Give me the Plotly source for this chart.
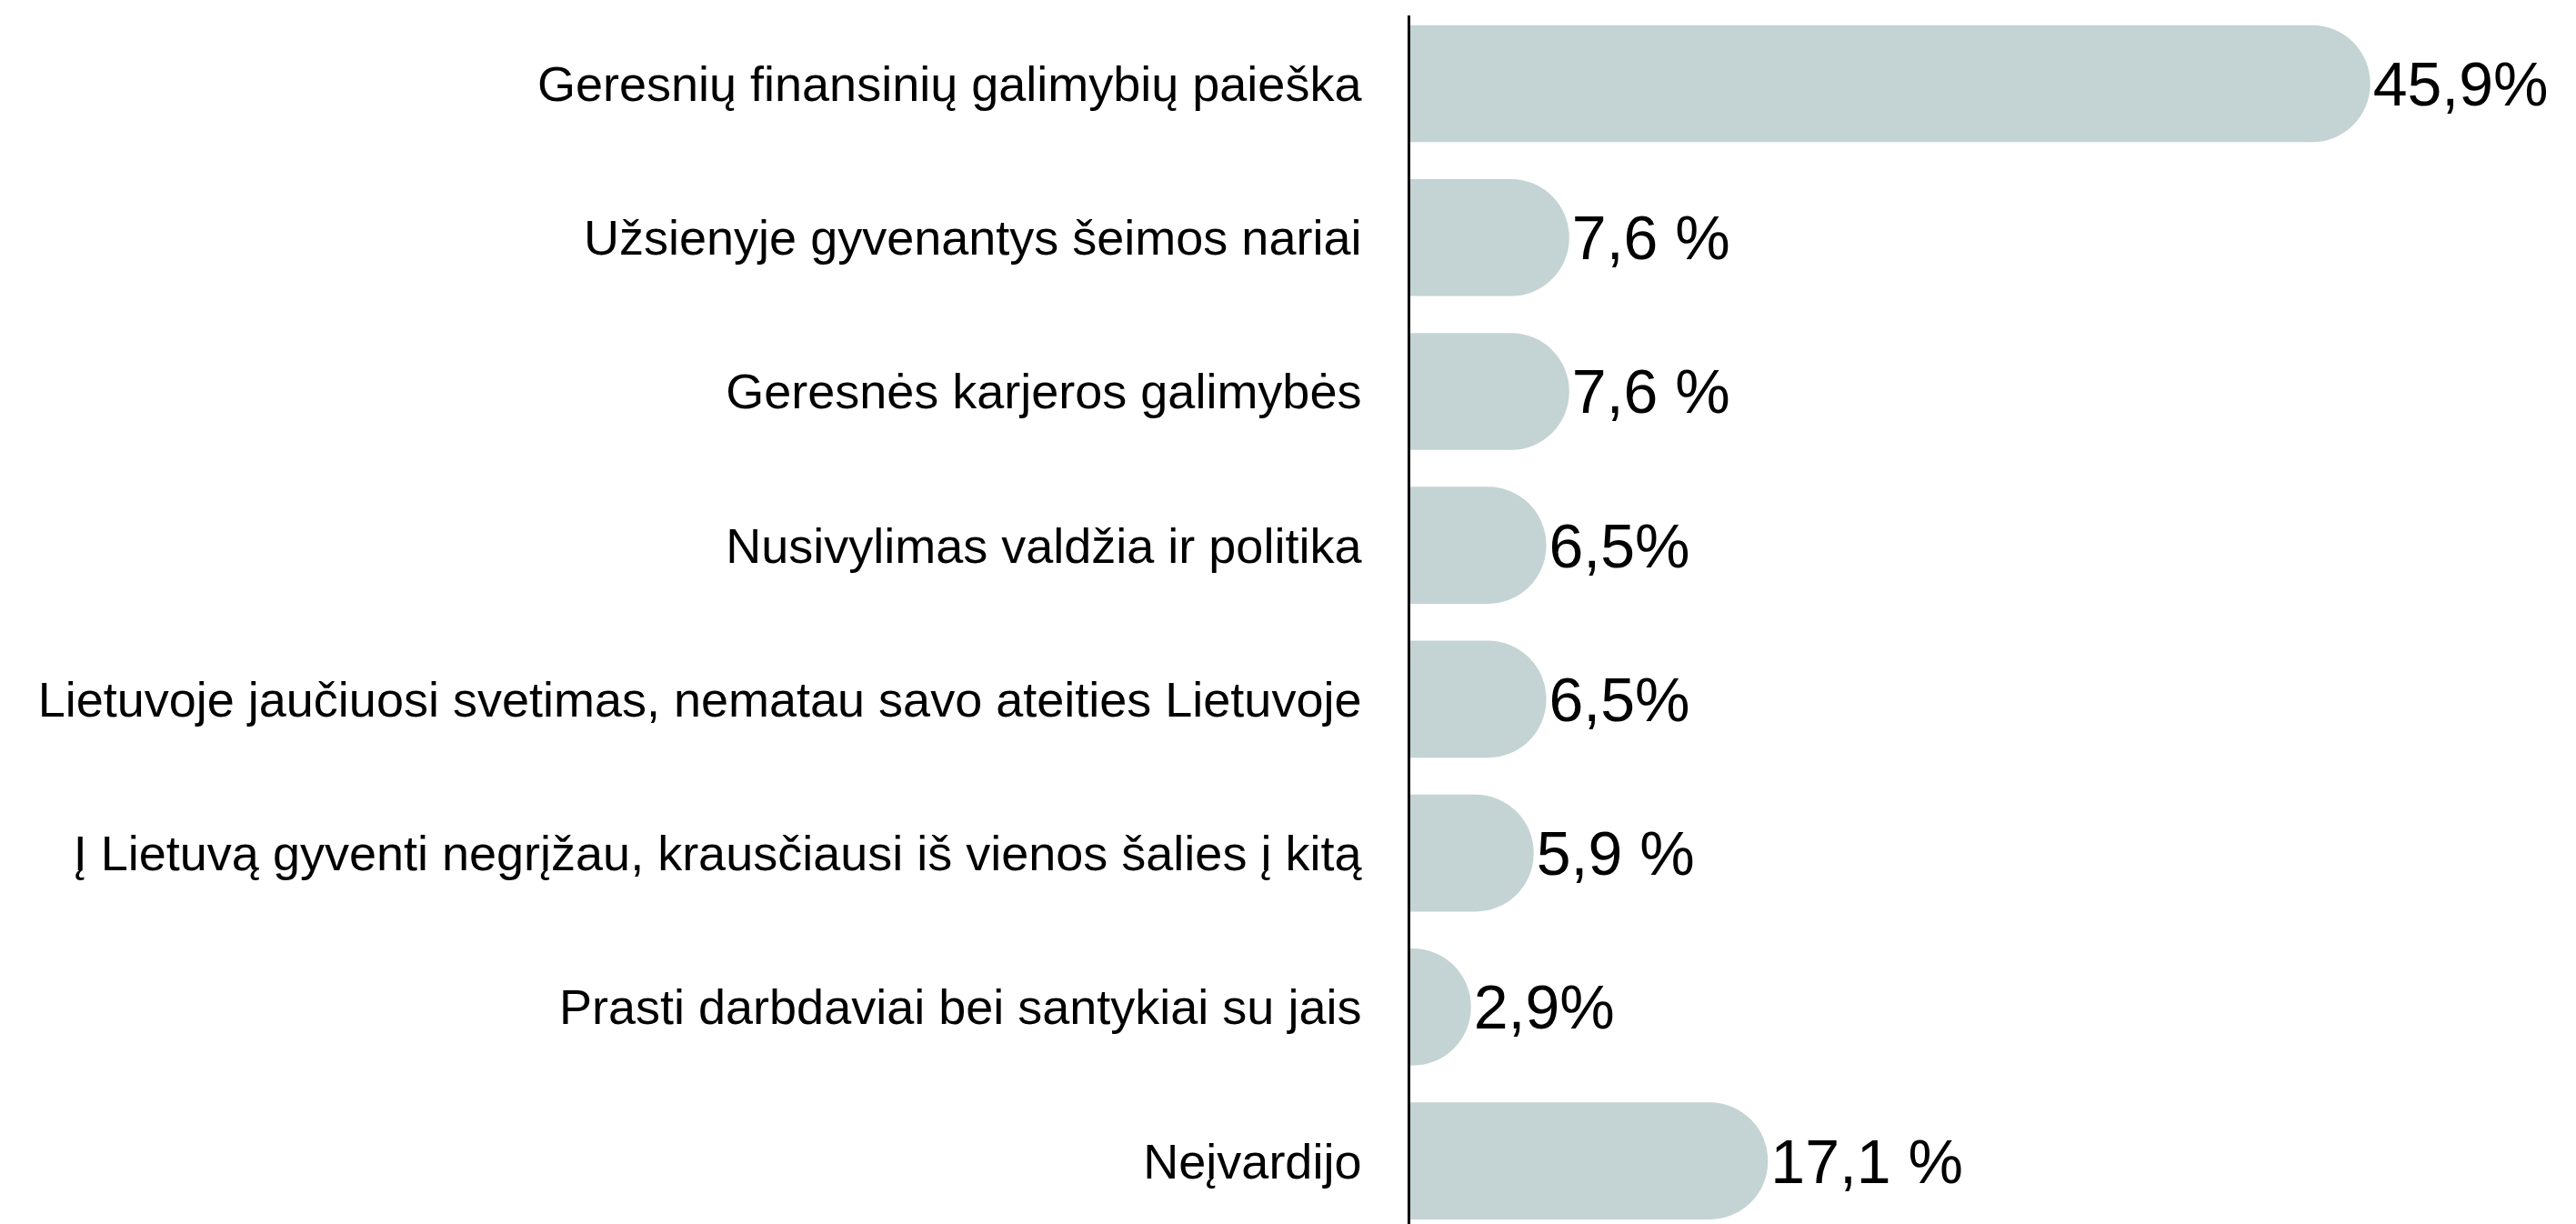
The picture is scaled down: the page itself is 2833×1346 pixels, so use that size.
import plotly.graph_objects as go

categories = [
    "Geresnių finansinių galimybių paieška",
    "Užsienyje gyvenantys šeimos nariai",
    "Geresnės karjeros galimybės",
    "Nusivylimas valdžia ir politika",
    "Lietuvoje jaučiuosi svetimas, nematau savo ateities Lietuvoje",
    "Į Lietuvą gyventi negrįžau, krausčiausi iš vienos šalies į kitą",
    "Prasti darbdaviai bei santykiai su jais",
    "Neįvardijo",
]
values = [45.9, 7.6, 7.6, 6.5, 6.5, 5.9, 2.9, 17.1]
value_labels = ["45,9%", "7,6 %", "7,6 %", "6,5%", "6,5%", "5,9 %", "2,9%", "17,1 %"]

FONT = "Liberation Sans, Arial, Helvetica, sans-serif"

fig = go.Figure(
    go.Bar(
        x=values,
        y=categories,
        orientation="h",
        width=0.76,
        marker=dict(color="#c4d3d3", cornerradius="50%", line=dict(width=0)),
        text=value_labels,
        textposition="outside",
        textfont=dict(family=FONT, size=68, color="#000000"),
        constraintext="none",
        cliponaxis=False,
        hoverinfo="skip",
    )
)

fig.update_layout(
    width=2833,
    height=1346,
    margin=dict(l=1551, r=0, t=17, b=0),
    paper_bgcolor="white",
    plot_bgcolor="white",
    showlegend=False,
    font=dict(family=FONT, color="#000000"),
)
fig.update_xaxes(
    range=[0, 1282 / 23.0],
    showgrid=False,
    zeroline=False,
    showticklabels=False,
    ticks="",
    showline=False,
)
fig.update_yaxes(
    type="category",
    categoryorder="array",
    categoryarray=categories,
    range=[7.41, -0.443],
    showgrid=False,
    zeroline=False,
    showline=True,
    linecolor="#000000",
    linewidth=2.5,
    ticks="",
    ticklabelstandoff=40,
    tickfont=dict(family=FONT, size=54, color="#000000"),
    automargin=False,
)

fig.write_html(
    "out.html",
    config={"displayModeBar": False},
    post_script="document.body.style.margin='0px';document.body.style.padding='0px';",
)
